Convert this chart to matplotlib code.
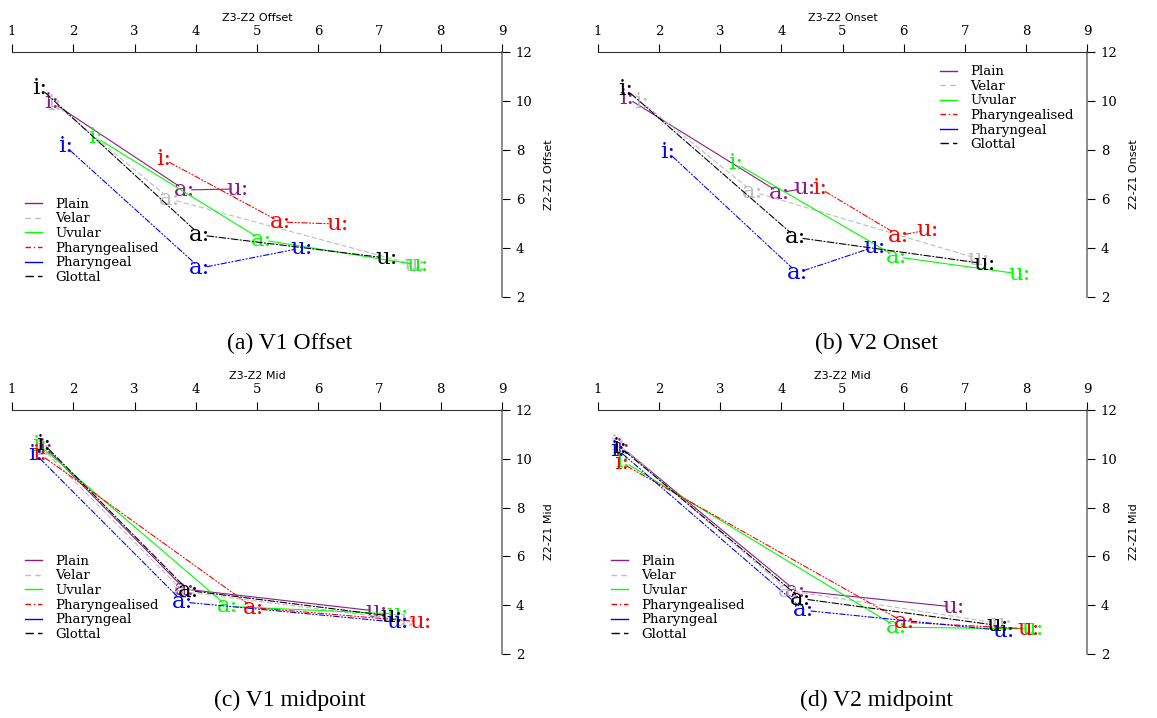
import matplotlib
matplotlib.use("Agg")
import matplotlib.pyplot as plt

categories = ["Plain", "Velar", "Uvular", "Pharyngealised", "Pharyngeal", "Glottal"]
vowels = ["i:", "a:", "u:"]
colors = ["#8B1C8B", "#BEBEBE", "#00FF00", "#FF0000", "#0000FF", "#000000"]
styles = ["-", (0, (4, 3)), "-", (0, (5, 2, 1, 2, 1, 2)), (0, (5, 2, 1, 2, 1, 2)), (0, (6, 2, 1, 2))]
legend_styles = ["-", (0, (4, 3)), "-", (0, (4, 2, 1, 2)), "-", (0, (6, 3))]

# (Z3-Z2, Z2-Z1) for i:, a:, u: per category
v1_offset_x = {"Plain": [1.65, 3.82, 4.69], "Velar": [1.70, 3.58, 7.58], "Uvular": [2.36, 5.08, 7.63],
               "Pharyngealised": [3.47, 5.38, 6.31], "Pharyngeal": [1.87, 4.07, 5.73], "Glottal": [1.46, 4.07, 7.12]}
v1_offset_y = {"Plain": [9.96, 6.37, 6.41], "Velar": [9.88, 6.00, 3.31], "Uvular": [8.53, 4.33, 3.31],
               "Pharyngealised": [7.63, 5.06, 4.98], "Pharyngeal": [8.16, 3.18, 4.00], "Glottal": [10.53, 4.53, 3.59]}

v2_onset_x = {"Plain": [1.47, 3.97, 4.38], "Velar": [1.72, 3.53, 7.22], "Uvular": [3.25, 5.88, 7.90],
              "Pharyngealised": [4.62, 5.92, 6.40], "Pharyngeal": [2.14, 4.26, 5.53], "Glottal": [1.45, 4.24, 7.32]}
v2_onset_y = {"Plain": [10.13, 6.26, 6.43], "Velar": [9.95, 6.30, 3.56], "Uvular": [7.46, 3.64, 2.94],
              "Pharyngealised": [6.45, 4.51, 4.74], "Pharyngeal": [7.92, 2.99, 4.05], "Glottal": [10.49, 4.43, 3.36]}

v1_mid_x = {"Plain": [1.55, 3.82, 6.95], "Velar": [1.50, 3.80, 7.40], "Uvular": [1.45, 4.52, 7.30],
            "Pharyngealised": [1.45, 4.94, 7.67], "Pharyngeal": [1.38, 3.79, 7.30], "Glottal": [1.52, 3.88, 7.20]}
v1_mid_y = {"Plain": [10.45, 4.66, 3.76], "Velar": [10.40, 4.55, 3.40], "Uvular": [10.55, 3.95, 3.64],
            "Pharyngealised": [10.20, 3.90, 3.32], "Pharyngeal": [10.20, 4.13, 3.30], "Glottal": [10.60, 4.60, 3.55]}

v2_mid_x = {"Plain": [1.40, 4.23, 6.81], "Velar": [1.33, 4.11, 7.60], "Uvular": [1.41, 5.89, 8.11],
            "Pharyngealised": [1.38, 6.01, 8.05], "Pharyngeal": [1.32, 4.37, 7.63], "Glottal": [1.35, 4.32, 7.54]}
v2_mid_y = {"Plain": [10.45, 4.60, 3.93], "Velar": [10.60, 4.60, 3.24], "Uvular": [9.90, 3.10, 3.03],
            "Pharyngealised": [9.83, 3.30, 3.03], "Pharyngeal": [10.38, 3.79, 2.96], "Glottal": [10.50, 4.27, 3.17]}

panels = [
    ("Z3-Z2 Offset", "Z2-Z1 Offset", "(a) V1 Offset", v1_offset_x, v1_offset_y, "lower left"),
    ("Z3-Z2 Onset", "Z2-Z1 Onset", "(b) V2 Onset", v2_onset_x, v2_onset_y, "upper right"),
    ("Z3-Z2 Mid", "Z2-Z1 Mid", "(c) V1 midpoint", v1_mid_x, v1_mid_y, "lower left"),
    ("Z3-Z2 Mid", "Z2-Z1 Mid", "(d) V2 midpoint", v2_mid_x, v2_mid_y, "lower left"),
]

W, H = 1157, 718
fig = plt.figure(figsize=(W / 100, H / 100), dpi=100)

# axes rectangles in pixel coords: left, right, top(y=12), bottom(y=2)
rects = [(12, 502, 52, 297), (598, 1087, 52, 297), (12, 502, 410, 654), (598, 1087, 410, 654)]
caption_pos = [(290, 343), (876, 343), (290, 700), (876, 700)]

for (xt, yt, cap, dx, dy, lloc), (l, r, t, b), (cx, cy) in zip(panels, rects, caption_pos):
    ax = fig.add_axes([l / W, 1 - b / H, (r - l) / W, (b - t) / H])
    ax.set_xlim(1, 9)
    ax.set_ylim(2, 12)
    for s in ["bottom", "left"]:
        ax.spines[s].set_visible(False)
    ax.spines["top"].set_color("#333333")
    ax.spines["right"].set_color("#777777")
    ax.spines["right"].set_linewidth(1.2)
    ax.xaxis.tick_top()
    ax.yaxis.tick_right()
    ax.set_xticks(range(1, 10))
    ax.set_yticks(range(2, 13, 2))
    ax.tick_params(direction="out", length=6, width=0.8, labelsize=9.5, pad=4)
    for lab in ax.get_xticklabels() + ax.get_yticklabels():
        lab.set_fontfamily("DejaVu Serif")
    ax.set_xlabel(xt, fontsize=8, family="DejaVu Sans", labelpad=3)
    ax.xaxis.set_label_position("top")
    ax.set_ylabel(yt, fontsize=8, family="DejaVu Sans", labelpad=8)
    ax.yaxis.set_label_position("right")

    handles = []
    for cat, col, ls, lls in zip(categories, colors, styles, legend_styles):
        xs, ys = dx[cat], dy[cat]
        for k in range(len(xs) - 1):
            ax.annotate("", xy=(xs[k + 1], ys[k + 1]), xytext=(xs[k], ys[k]),
                        arrowprops=dict(arrowstyle="-", color=col, lw=0.8, linestyle=ls,
                                        shrinkA=5, shrinkB=5), annotation_clip=False)
        for v, xv, yv in zip(vowels, xs, ys):
            ax.text(xv, yv, v, color=col, fontsize=16.5, family="DejaVu Serif",
                    ha="center", va="center", clip_on=False)
        h, = ax.plot([], [], color=col, linestyle=lls, lw=1.0, label=cat)
        handles.append(h)
    leg = ax.legend(handles=handles, loc=lloc, frameon=False, handlelength=1.3,
                    handletextpad=1.0, labelspacing=0.12, borderaxespad=0.6,
                    prop={"family": "DejaVu Serif", "size": 9.5})
    fig.text(cx / W, 1 - cy / H, cap, ha="center", va="center", fontsize=17,
             family="Liberation Serif")

fig.savefig("out.png", dpi=100)
